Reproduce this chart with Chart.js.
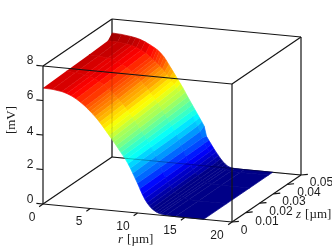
<!DOCTYPE html>
<html>
<head>
<meta charset="utf-8">
<style>
  html, body { margin: 0; padding: 0; background: #fff; }
  canvas { display: block; }
</style>
<script src="https://cdn.jsdelivr.net/npm/chart.js@4/dist/chart.umd.js"></script>
</head>
<body>
<canvas id="surface" width="332" height="249"></canvas>
<script>
// grid of the surface
const rValues = [0, 1, 2, 2.5, 3, 3.5, 4, 4.5, 4.75, 5, 5.25, 5.5, 5.75, 6, 6.25, 6.5, 6.75, 7, 7.25, 7.5, 7.75, 8, 8.25, 8.5, 8.75, 9, 9.25, 9.5, 9.75, 10, 10.25, 10.5, 10.75, 11, 11.25, 11.5, 11.75, 12, 12.25, 12.5, 13, 14, 17];
const zValues = [0, 0.0167, 0.0333, 0.047, 0.05];

// potential in mV along r, one list per z
const vAtZ0 = [6.72, 6.70, 6.62, 6.54, 6.43, 6.28, 6.10, 5.88, 5.76, 5.63, 5.50, 5.36, 5.21, 5.05, 4.88, 4.70, 4.52, 4.34, 4.16, 3.98, 3.79, 3.60, 3.41, 3.22, 3.03, 2.80, 2.55, 2.28, 2.00, 1.72, 1.42, 1.12, 0.86, 0.65, 0.48, 0.34, 0.24, 0.16, 0.11, 0.07, 0.03, 0, 0];
const vAtZ1 = [6.78, 6.76, 6.69, 6.61, 6.51, 6.37, 6.19, 5.98, 5.86, 5.74, 5.61, 5.47, 5.33, 5.17, 5.00, 4.83, 4.65, 4.47, 4.28, 4.09, 3.89, 3.69, 3.49, 3.29, 3.09, 2.86, 2.61, 2.34, 2.05, 1.74, 1.45, 1.16, 0.91, 0.71, 0.53, 0.38, 0.27, 0.17, 0.11, 0.07, 0.03, 0, 0];
const vAtZ2 = [6.84, 6.82, 6.75, 6.69, 6.59, 6.45, 6.29, 6.08, 5.97, 5.84, 5.72, 5.59, 5.44, 5.29, 5.13, 4.95, 4.77, 4.59, 4.41, 4.21, 4.00, 3.79, 3.58, 3.37, 3.16, 2.92, 2.66, 2.39, 2.09, 1.76, 1.47, 1.20, 0.97, 0.76, 0.58, 0.42, 0.29, 0.19, 0.12, 0.07, 0.02, 0, 0];
const vAtZ3 = [6.90, 6.88, 6.82, 6.76, 6.67, 6.54, 6.38, 6.18, 6.07, 5.95, 5.83, 5.70, 5.56, 5.41, 5.25, 5.08, 4.90, 4.72, 4.53, 4.32, 4.10, 3.88, 3.66, 3.44, 3.22, 2.98, 2.72, 2.45, 2.14, 1.78, 1.50, 1.24, 1.02, 0.82, 0.63, 0.46, 0.32, 0.20, 0.12, 0.07, 0.02, 0, 0];
const vAtZ4 = [7.19, 7.16, 7.09, 7.04, 6.97, 6.86, 6.72, 6.57, 6.48, 6.37, 6.24, 6.09, 5.90, 5.68, 5.47, 5.26, 5.05, 4.83, 4.62, 4.40, 4.16, 3.92, 3.69, 3.46, 3.23, 3.00, 2.77, 2.54, 2.30, 1.72, 1.50, 1.28, 1.07, 0.87, 0.68, 0.50, 0.34, 0.21, 0.11, 0.05, 0.01, 0, 0];
const vRows = [vAtZ0, vAtZ1, vAtZ2, vAtZ3, vAtZ4];

// tick labels
const rTicks = [0, 5, 10, 15, 20];
const zTicks = [0, 0.01, 0.02, 0.03, 0.04, 0.05];
const vTicks = [0, 2, 4, 6, 8];

const rMax = 20;
const zMax = 0.05;
const vMax = 8;
const colourBottom = 0.3;
const colourTop = 7.35;

// oblique view of the box: page position of a (r, z, v) point
const project = (r, z, v) => ({
  x: 43 + (r / rMax) * 189 + (z / zMax) * 69,
  y: 204 + (r / rMax) * 18 - (z / zMax) * 47 - (v / vMax) * 138,
});

const clamp = (t) => Math.max(0, Math.min(1, t));

// jet colormap, 64 levels
const jet = (v) => {
  const level = Math.min(63, Math.floor(clamp((v - colourBottom) / (colourTop - colourBottom)) * 64));
  const t = (level + 0.5) / 64;
  const red = clamp(1.5 - Math.abs(4 * t - 3));
  const green = clamp(1.5 - Math.abs(4 * t - 2));
  const blue = clamp(1.5 - Math.abs(4 * t - 1));
  return `rgb(${Math.round(red * 255)},${Math.round(green * 255)},${Math.round(blue * 255)})`;
};

const lineSet = (from, to, color = '#141414', width = 1.2) => ({
  data: [project(...from), project(...to)],
  showLine: true,
  fill: false,
  borderColor: color,
  borderWidth: width,
  pointRadius: 0,
});

const quadSet = (zi, ri) => {
  const corners = [
    [ri, zi],
    [ri + 1, zi],
    [ri + 1, zi + 1],
    [ri, zi + 1],
  ];
  const heights = corners.map(([a, b]) => vRows[b][a]);
  const mean = heights.reduce((sum, h) => sum + h, 0) / 4;
  const color = jet(mean);
  return {
    data: corners.map(([a, b]) => project(rValues[a], zValues[b], vRows[b][a])),
    showLine: true,
    fill: 'shape',
    backgroundColor: color,
    borderColor: color,
    borderWidth: 0.7,
    pointRadius: 0,
    tension: 0,
  };
};

// painted in list order, far corner first
const painted = [];

// box edges behind the surface
painted.push(lineSet([0, 0, 0], [0, zMax, 0]));
painted.push(lineSet([0, zMax, 0], [rMax, zMax, 0]));
painted.push(lineSet([0, zMax, 0], [0, zMax, vMax]));
painted.push(lineSet([rMax, zMax, 0], [rMax, zMax, vMax]));

for (let zi = zValues.length - 2; zi >= 0; zi--) {
  for (let ri = 0; ri < rValues.length - 1; ri++) {
    painted.push(quadSet(zi, ri));
  }
}

// those edges show faintly through the surface
painted.push(lineSet([0, zMax, 0], [rMax, zMax, 0], 'rgba(0,0,0,0.25)'));
painted.push(lineSet([0, zMax, 0], [0, zMax, vMax], 'rgba(0,0,0,0.12)'));

// box edges in front
painted.push(lineSet([0, 0, 0], [0, 0, vMax]));
painted.push(lineSet([rMax, 0, 0], [rMax, 0, vMax]));
painted.push(lineSet([0, 0, vMax], [rMax, 0, vMax]));
painted.push(lineSet([0, zMax, vMax], [rMax, zMax, vMax]));
painted.push(lineSet([0, 0, vMax], [0, zMax, vMax]));
painted.push(lineSet([rMax, 0, vMax], [rMax, zMax, vMax]));
painted.push(lineSet([0, 0, 0], [rMax, 0, 0]));
painted.push(lineSet([rMax, 0, 0], [rMax, zMax, 0]));

// ticks
rTicks.forEach((r) => painted.push(lineSet([r, 0, 0], [r, -0.0028, 0])));
zTicks.forEach((z) => painted.push(lineSet([rMax, z, 0], [rMax + 0.55, z + 0.0012, 0])));
vTicks.forEach((v) => painted.push(lineSet([0, 0, v], [-0.7, 0, v])));

// text positions on the page
const textItems = [
  ...vTicks.map((v, i) => ({ text: String(v), x: 30, y: [200, 165, 132, 96, 61][i] })),
  ...rTicks.map((r, i) => ({ text: String(r), x: [32, 79, 123, 170, 217][i], y: [218, 222, 227, 231, 236][i] })),
  ...zTicks.map((z, i) => ({ text: String(z), x: [244, 267, 281, 294, 309, 321.5][i], y: [231, 222, 212, 202, 193, 183][i] })),
];

const textPlugin = {
  id: 'boxText',
  afterDraw(chart) {
    const { ctx } = chart;
    ctx.save();
    ctx.fillStyle = '#1c1c1c';
    ctx.textAlign = 'center';
    ctx.textBaseline = 'middle';
    ctx.font = '12px "Liberation Sans"';
    textItems.forEach((item) => ctx.fillText(item.text, item.x, item.y));

    // axis titles: italic letter plus upright unit
    const title = (letter, unit, x, y) => {
      ctx.textAlign = 'left';
      ctx.font = 'italic 13px "Liberation Serif"';
      ctx.fillText(letter, x, y);
      const w = ctx.measureText(letter).width + 4;
      ctx.font = '13px "Liberation Serif"';
      ctx.fillText(unit, x + w, y);
    };
    title('r', '[µm]', 118, 240);
    title('z', '[µm]', 296, 215);

    ctx.translate(12, 120);
    ctx.rotate(-Math.PI / 2);
    ctx.textAlign = 'center';
    ctx.font = '13px "Liberation Serif"';
    ctx.fillText('[mV]', 0, 0);
    ctx.restore();
  },
};

new Chart(document.getElementById('surface'), {
  type: 'scatter',
  // Chart.js paints the first dataset last
  data: { datasets: painted.slice().reverse() },
  plugins: [textPlugin],
  options: {
    responsive: false,
    animation: false,
    events: [],
    layout: { padding: 0 },
    plugins: { legend: { display: false }, tooltip: { enabled: false } },
    scales: {
      x: { type: 'linear', min: 0, max: 332, display: false },
      y: { type: 'linear', min: 0, max: 249, reverse: true, display: false },
    },
  },
});
</script>
</body>
</html>
